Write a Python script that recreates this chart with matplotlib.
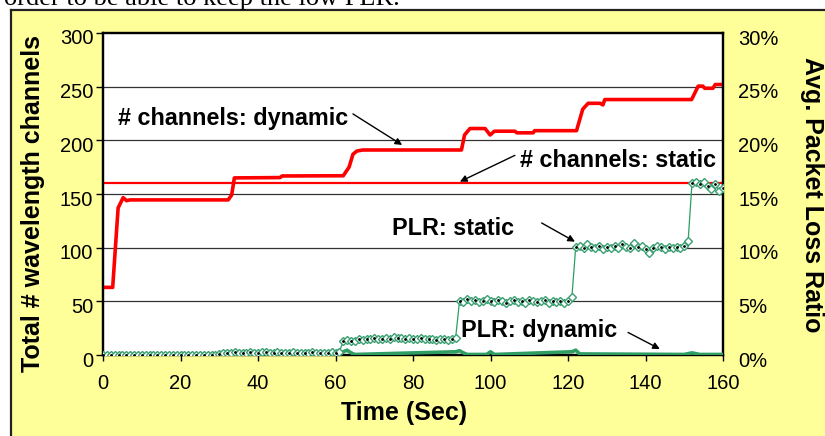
import matplotlib
matplotlib.use('Agg')
import matplotlib.pyplot as plt
import matplotlib.transforms as mtrans
from matplotlib.patches import Rectangle
from matplotlib.lines import Line2D
import numpy as np

plt.rcParams['font.family'] = ['Liberation Sans', 'DejaVu Sans']

#%% data

# channels, dynamic allocation (time in s, number of channels)
dyn_t = [0, 2.5, 3.9, 5.2, 6.1, 7, 32.3, 33.2, 33.9, 45.7, 46.2, 62, 63.5, 64.5,
         65.5, 67, 92.5, 93.3, 94.7, 98.6, 99.9, 101, 106.3, 106.8, 111, 111.4,
         122.2, 123.8, 125.2, 128.3, 129, 129.5, 151.9, 153.6, 154.8, 155.3,
         157.4, 158, 160]
dyn_ch = [63, 63, 137, 146.6, 143.8, 144.5, 144.5, 149, 165, 165.3, 166.8, 167,
          175, 187, 190, 191, 191, 205, 211, 211, 205, 208.5, 208.5, 207, 207,
          209, 209, 229, 234.5, 234.5, 233, 238, 238, 250.5, 250.5, 248.5,
          248.5, 252, 252]

static_t = [0, 160]
static_ch = [160, 160]

# packet loss ratio (%), static allocation, one sample per second
plr_static = [
    # 0 - 30
    0.0, 0.02, 0.0, 0.03, 0.0, 0.02, 0.0, 0.0, 0.03, 0.0, 0.02, 0.0, 0.0, 0.03, 0.0, 0.02,
    0.0, 0.0, 0.03, 0.0, 0.02, 0.0, 0.03, 0.0, 0.0, 0.02, 0.0, 0.03, 0.0, 0.02, 0.05,
    # 31 - 61
    0.15, 0.2, 0.18, 0.25, 0.2, 0.15, 0.22, 0.25, 0.18, 0.2, 0.25, 0.3, 0.2, 0.18, 0.25,
    0.22, 0.15, 0.2, 0.25, 0.18, 0.22, 0.2, 0.15, 0.25, 0.2, 0.18, 0.22, 0.2, 0.25, 0.22,
    0.3,
    # 62 - 91
    1.3, 1.4, 1.35, 1.3, 1.45, 1.4, 1.5, 1.45, 1.55, 1.5, 1.45, 1.6, 1.5, 1.7, 1.55,
    1.6, 1.5, 1.55, 1.45, 1.5, 1.6, 1.5, 1.45, 1.5, 1.4, 1.45, 1.5, 1.4, 1.45, 1.6,
    # 92 - 121
    5.0, 4.9, 5.2, 5.0, 5.1, 4.9, 5.0, 5.2, 5.0, 4.9, 5.1, 5.0, 4.8, 5.0, 5.1, 4.9,
    5.0, 4.8, 5.1, 5.0, 4.9, 5.0, 5.1, 4.8, 5.0, 4.9, 5.0, 4.8, 5.0, 5.4,
    # 122 - 151
    10.1, 10.2, 10.0, 10.3, 10.1, 10.0, 10.2, 9.9, 10.1, 10.0, 10.2, 10.0, 10.3, 10.1,
    10.0, 10.4, 10.1, 10.2, 9.9, 9.5, 10.0, 10.2, 10.1, 9.9, 10.1, 10.0, 10.1, 10.0,
    10.2, 10.6,
    # 152 - 160
    16.0, 16.1, 15.9, 16.1, 15.7, 15.5, 15.9, 15.3, 15.6,
]
plr_static_t = list(range(len(plr_static)))

# packet loss ratio (%), dynamic allocation
plr_dyn_t = [0, 61, 62, 63, 64, 65, 91, 92, 93, 94, 99, 100, 101, 121, 122, 123, 150,
             152, 154, 160]
plr_dyn = [0.0, 0.0, 0.3, 0.45, 0.2, 0.05, 0.3, 0.4, 0.2, 0.05, 0.05, 0.3, 0.05, 0.3,
           0.45, 0.1, 0.05, 0.2, 0.05, 0.05]

x_ticks = [0, 20, 40, 60, 80, 100, 120, 140, 160]
y_ticks = [0, 50, 100, 150, 200, 250, 300]
y2_ticks = [0, 5, 10, 15, 20, 25, 30]

#%% figure

W, H = 825, 436
fig = plt.figure(figsize=(W / 100, H / 100), dpi=100)
fig.patch.set_facecolor('white')

# yellow chart frame
fig.add_artist(Rectangle((11 / W, 0), 1 - 11 / W, (H - 10) / H, transform=fig.transFigure,
                         facecolor='#FFFF99', edgecolor='none', zorder=-10))
fig.add_artist(Line2D([11 / W, 11 / W], [0, (H - 10) / H], transform=fig.transFigure,
                      color='#222222', lw=1.6))
fig.add_artist(Line2D([11 / W, 1], [(H - 10) / H, (H - 10) / H], transform=fig.transFigure,
                      color='#222222', lw=1.6))

# cropped text line from the page above the chart
fig.text(4 / W, 1 - 5 / H, 'order to be able to keep the low PLR.', family='Liberation Serif',
         fontsize=19, va='baseline', ha='left')

ax = fig.add_axes([103 / W, 81 / H, 620 / W, 322 / H])
ax.set_facecolor('white')
ax2 = ax.twinx()

for y in y_ticks[1:-1]:
    ax.axhline(y, color='#333333', lw=0.9, zorder=1)

ax.plot(static_t, static_ch, color='#FF0000', lw=1.6, zorder=3)
ax.plot(dyn_t, dyn_ch, color='#FF0000', lw=2.6, zorder=3, solid_joinstyle='round')

ax2.plot(plr_dyn_t, plr_dyn, color='#2E9E62', lw=2.6, zorder=3)
ax2.plot(plr_static_t, plr_static, color='#2E9E62', lw=0.9, marker='D', ms=4,
         mfc='white', mec='#3AA070', mew=1.0, zorder=4)
ax2.plot(plr_static_t[::2], plr_static[::2], ls='none', marker='.', ms=2, color='black',
         zorder=5)

ax.set_xlim(0, 160)
ax.set_ylim(0, 300)
ax2.set_ylim(0, 30)
ax.set_xticks(x_ticks)
ax.set_yticks(y_ticks)
ax2.set_yticks(y2_ticks)
ax2.set_yticklabels([f'{v}%' for v in y2_ticks])

ax.tick_params(axis='x', direction='out', length=4, width=1, labelsize=14.5, pad=10)
ax.tick_params(axis='y', direction='out', length=5, width=1, labelsize=14.5, pad=2)
ax2.tick_params(axis='y', length=0, labelsize=14.5, pad=11)

# Excel puts the value labels a little below their gridline
shift = mtrans.ScaledTranslation(0, -4 / 100, fig.dpi_scale_trans)
for lab in ax.get_yticklabels() + ax2.get_yticklabels():
    lab.set_transform(lab.get_transform() + shift)

for a in (ax, ax2):
    for s in a.spines.values():
        s.set_linewidth(1.6)
        s.set_color('black')

ax.set_xlabel('Time (Sec)', fontsize=18, fontweight='bold', va='center')
ax.xaxis.set_label_coords(0.4855, -0.18)
ax.set_ylabel('Total # wavelength channels', fontsize=18, fontweight='bold', va='center')
ax.yaxis.set_label_coords(-0.1137, 0.469)
ax2.set_ylabel('Avg. Packet Loss Ratio', fontsize=18, fontweight='bold', rotation=-90,
               va='center')
ax2.yaxis.set_label_coords(1.143, 0.497)

arrow = dict(arrowstyle='-|>', color='black', lw=1.0, mutation_scale=10, shrinkA=0, shrinkB=0)
ax.annotate('', xy=(77.2, 195.7), xytext=(64.5, 224.6), arrowprops=arrow)
ax.text(3.9, 220, '# channels: dynamic', fontsize=16.8, fontweight='bold', va='center')
ax.annotate('', xy=(92.1, 161.5), xytext=(106.3, 186), arrowprops=arrow)
ax.text(107.5, 181.5, '# channels: static', fontsize=16.8, fontweight='bold', va='center')
ax2.annotate('', xy=(121.8, 10.56), xytext=(113.2, 12.3), arrowprops=arrow)
ax2.text(74.7, 11.8, 'PLR: static', fontsize=16.8, fontweight='bold', va='center')
ax2.annotate('', xy=(143.7, 0.56), xytext=(135.5, 2.1), arrowprops=arrow)
ax2.text(92.5, 2.3, 'PLR: dynamic', fontsize=16.8, fontweight='bold', va='center')

fig.savefig('out.png', dpi=100)
